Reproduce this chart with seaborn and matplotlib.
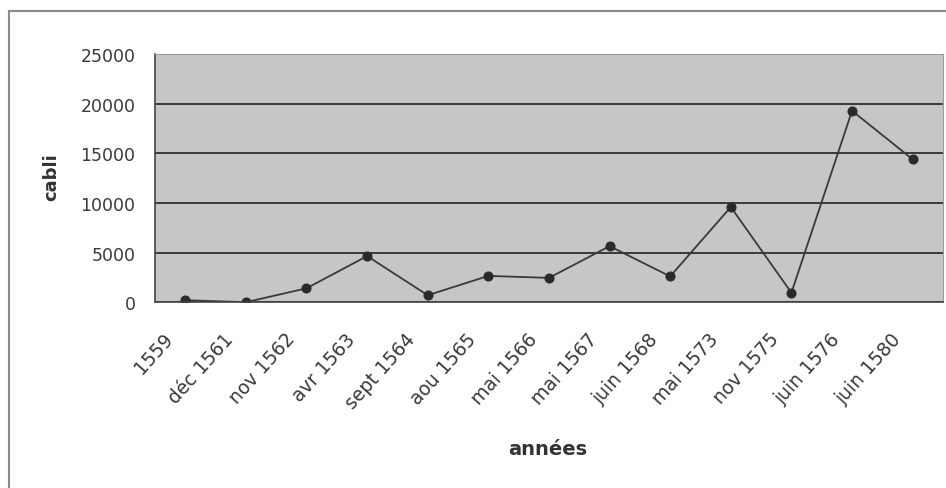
import numpy as np
import pandas as pd
import matplotlib
matplotlib.use('Agg')
import matplotlib.pyplot as plt
import seaborn as sns
from matplotlib.patches import Rectangle
from matplotlib.transforms import ScaledTranslation

# data
annees = ['1559', 'déc 1561', 'nov 1562', 'avr 1563', 'sept 1564', 'aou 1565', 'mai 1566',
          'mai 1567', 'juin 1568', 'mai 1573', 'nov 1575', 'juin 1576', 'juin 1580']
cabli = [200, 0, 1400, 4650, 700, 2650, 2450, 5650, 2600, 9600, 950, 19300, 14400]
y_ticks = [0, 5000, 10000, 15000, 20000, 25000]

df = pd.DataFrame({'pos': np.arange(len(annees)), 'cabli': cabli})

sns.set_style('white')
plt.rcParams['font.family'] = ['DejaVu Sans']

fig = plt.figure(figsize=(9.46, 4.89), dpi=100)
ax = fig.add_axes([0.1638, 0.380, 0.833, 0.507])
ax.set_facecolor('#c6c6c6')

sns.lineplot(data=df, x='pos', y='cabli', ax=ax, color='#3a3a3a', linewidth=1.3,
             marker='o', markersize=6.5, markeredgecolor='#2a2a2a', markerfacecolor='#2a2a2a')

ax.set_ylim(0, 25000)
ax.set_xlim(-0.5, len(annees) - 0.5)
ax.set_yticks(y_ticks)
ax.set_yticklabels([str(v) for v in y_ticks], fontsize=12.5, color='#3a3a3a')
ax.yaxis.grid(True, color='#2e2e2e', linewidth=1.3)
ax.set_axisbelow(True)

ax.set_xticks(np.arange(len(annees)))
ax.set_xticklabels(annees, rotation=48, ha='right', va='center', rotation_mode='anchor',
                   fontsize=13.5, color='#3a3a3a')
ax.set_xticks(np.arange(len(annees) + 1) - 0.5, minor=True)
ax.tick_params(axis='x', which='major', length=0, pad=24)
ax.tick_params(axis='x', which='minor', length=4, color='#555555')
ax.tick_params(axis='y', length=4, color='#555555', pad=10)
# nudge the slanted labels left (after tick_params, which resets transforms)
shift = ScaledTranslation(-11 / 72, 0, fig.dpi_scale_trans)
for lab in ax.get_xticklabels():
    lab.set_transform(lab.get_transform() + shift)

for s in ['left', 'bottom']:
    ax.spines[s].set_color('#444444')
    ax.spines[s].set_linewidth(1.2)
for s in ['top', 'right']:
    ax.spines[s].set_color('#9a9a9a')
    ax.spines[s].set_linewidth(0.8)

ax.set_xlabel('années', fontsize=14, fontweight='bold', color='#333333')
ax.xaxis.set_label_coords(0.499, -0.55)
ax.set_ylabel('cabli', fontsize=13, fontweight='bold', color='#333333')
ax.yaxis.set_label_coords(-0.12, 0.508)

# outer chart frame
fig.patches.append(Rectangle((0.009, -0.01), 1.0, 0.986, transform=fig.transFigure,
                             fill=False, edgecolor='#8a8a8a', linewidth=1.5))

fig.savefig('out.png', dpi=100)
